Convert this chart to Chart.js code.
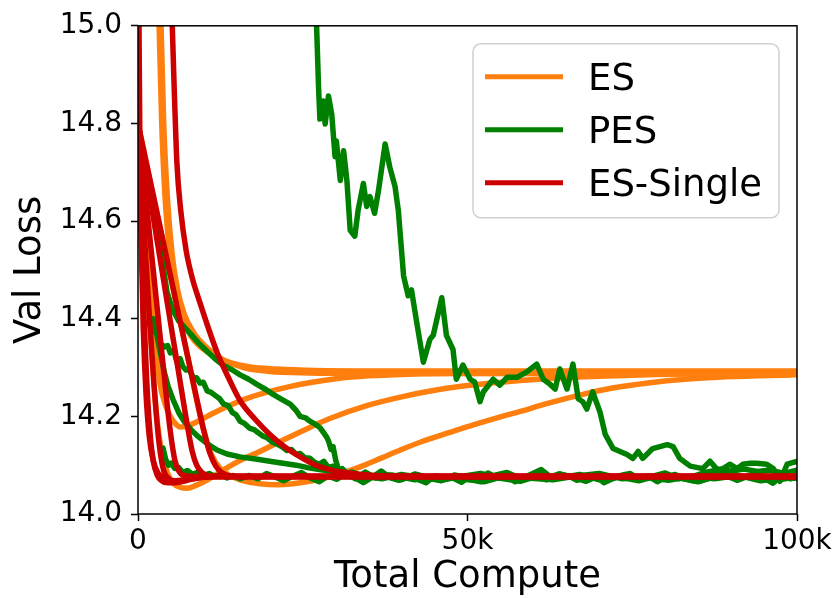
<!DOCTYPE html>
<html>
<head>
<meta charset="utf-8">
<script src="https://cdn.jsdelivr.net/npm/chart.js@4.4.1/dist/chart.umd.min.js"></script>
<style>
  html, body { margin: 0; padding: 0; background: #fff; }
  canvas { display: block; }
</style>
</head>
<body>
<canvas id="chart" width="839" height="598"></canvas>
<script>
// Each run: [total compute in thousands, validation loss]

// ES runs
const esRun1 = [[2.7,15.3],[3.2,15.0],[3.6,14.8],[4.1,14.65],[4.7,14.55],[5.3,14.49],[6.0,14.44],[6.8,14.40],[8.0,14.365],[9.5,14.342],[11.4,14.325],[14.0,14.31],[17.0,14.301],[21.0,14.297],[27.0,14.294],[35.0,14.293],[50.0,14.293],[100.0,14.293]];
const esRun2 = [[3.0,15.3],[3.5,15.0],[3.9,14.8],[4.5,14.64],[5.2,14.53],[6.0,14.46],[7.0,14.41],[8.5,14.37],[10.5,14.34],[13.0,14.315],[16.0,14.3],[20.0,14.292],[26.0,14.289],[35.0,14.288],[100.0,14.287]];
const esRun3 = [[0,14.8],[1.0,14.65],[2.0,14.47],[2.6,14.36],[3.3,14.27],[4.2,14.222],[4.9,14.2],[5.6,14.186],[6.4,14.178],[7.5,14.18],[8.8,14.188],[10.5,14.2],[12.4,14.213],[14.5,14.226],[17.0,14.239],[20.0,14.251],[23.0,14.261],[26.0,14.269],[30.0,14.277],[35.0,14.283],[42.0,14.287],[52.0,14.289],[65.0,14.29],[100.0,14.29]];
const esRun4 = [[0,14.8],[0.6,14.66],[1.2,14.52],[1.8,14.39],[2.4,14.27],[3.0,14.18],[3.7,14.12],[4.5,14.083],[5.4,14.062],[6.5,14.054],[7.5,14.053],[8.7,14.058],[10.0,14.066],[11.3,14.076],[12.6,14.087],[14.2,14.1],[16.0,14.113],[18.0,14.125],[21.0,14.145],[24.6,14.168],[29.0,14.195],[34.7,14.222],[40.0,14.24],[44.8,14.253],[50.0,14.263],[55.0,14.27],[62.0,14.277],[70.0,14.282],[80.0,14.286],[90.0,14.288],[100.0,14.289]];
const esRun5 = [[0,14.8],[2.0,14.67],[4.0,14.545],[6.0,14.42],[7.5,14.325],[8.8,14.24],[10.0,14.17],[11.2,14.12],[12.5,14.093],[14.0,14.078],[16.0,14.068],[18.5,14.062],[21.0,14.06],[23.5,14.062],[26.0,14.067],[28.5,14.074],[31.0,14.084],[34.0,14.098],[37.0,14.115],[39.8,14.131],[43.0,14.148],[47.3,14.167],[51.0,14.183],[55.0,14.199],[58.0,14.21],[62.0,14.226],[67.5,14.245],[72.0,14.258],[77.7,14.269],[83.0,14.276],[88.0,14.28],[94.0,14.283],[100.0,14.285]];

// PES runs
const pesRun1 = [[3.8,14.135],[4.2,14.112],[4.6,14.1],[5.0,14.104],[5.6,14.093],[6.2,14.095],[6.8,14.085],[7.5,14.089],[8.3,14.081],[9.1,14.086],[10.0,14.079],[10.8,14.083],[11.7,14.077],[12.6,14.081],[13.5,14.074],[14.4,14.079],[15.5,14.072],[16.8,14.079],[18.2,14.072],[19.5,14.083],[20.8,14.076],[22.1,14.068],[23.4,14.077],[24.8,14.085],[26.1,14.074],[27.5,14.066],[28.8,14.078],[30.2,14.071],[31.5,14.083],[32.9,14.075],[34.2,14.064],[35.6,14.076],[36.9,14.088],[38.3,14.074],[39.6,14.069],[41.0,14.079],[42.3,14.072],[43.7,14.064],[45.0,14.078],[46.4,14.071],[47.7,14.074],[49.1,14.065],[50.4,14.078],[51.8,14.072],[53.1,14.084],[54.5,14.074],[55.8,14.079],[57.2,14.066],[58.5,14.074],[59.9,14.083],[61.2,14.091],[62.6,14.076],[63.9,14.082],[65.3,14.078],[66.6,14.069],[68.0,14.076],[69.3,14.081],[70.7,14.064],[72.0,14.072],[73.4,14.079],[74.7,14.083],[76.1,14.071],[77.4,14.078],[78.8,14.066],[80.1,14.076],[81.5,14.081],[82.8,14.073],[84.2,14.068],[85.5,14.079],[86.9,14.074],[88.2,14.083],[89.6,14.077],[90.9,14.069],[92.3,14.076],[93.6,14.082],[95.0,14.074],[96.3,14.063],[97.7,14.078],[99.0,14.072],[100.0,14.076]];
const pesRun2 = [[3.4,14.58],[3.9,14.5],[4.4,14.455],[5.2,14.42],[6.2,14.395],[7.9,14.37],[9.2,14.35],[10.5,14.333],[11.7,14.318],[12.9,14.305],[14.2,14.296],[15.5,14.285],[16.8,14.276],[18.1,14.265],[19.4,14.255],[20.5,14.245],[21.8,14.235],[23.1,14.225],[24.0,14.212],[24.6,14.2],[25.4,14.197],[26.1,14.19],[27.0,14.183],[27.6,14.177],[28.1,14.168],[28.6,14.158],[28.9,14.15],[29.3,14.132],[29.6,14.138],[30.0,14.11],[30.4,14.092],[30.8,14.081],[31.5,14.084],[33.0,14.072],[34.5,14.086],[36.0,14.074],[38.0,14.08],[40.0,14.07],[42.0,14.082],[44.0,14.075],[46.0,14.068],[48.0,14.08],[50.0,14.074],[52.0,14.066],[54.0,14.079],[56.0,14.085],[58.0,14.073],[60.0,14.078],[62.0,14.07],[64.0,14.082],[66.0,14.075],[68.0,14.067],[70.0,14.079],[72.0,14.074],[74.0,14.081],[76.0,14.07],[78.0,14.077],[80.0,14.084],[82.0,14.072],[84.0,14.076],[86.0,14.085],[88.0,14.09],[90.0,14.088],[92.0,14.092],[94.0,14.087],[96.0,14.09],[98.0,14.083],[100.0,14.09]];
const pesRun3 = [[1.6,14.39],[2.0,14.4],[2.4,14.375],[2.9,14.37],[3.4,14.35],[4.0,14.342],[4.5,14.345],[4.9,14.33],[5.4,14.336],[5.9,14.312],[6.4,14.318],[6.8,14.302],[7.3,14.295],[7.8,14.296],[8.3,14.282],[8.9,14.279],[9.4,14.268],[9.9,14.27],[10.5,14.252],[11.1,14.249],[11.7,14.243],[12.4,14.236],[13.0,14.225],[13.7,14.222],[14.3,14.208],[14.9,14.203],[15.5,14.19],[16.2,14.185],[16.9,14.176],[17.6,14.173],[18.1,14.168],[18.9,14.16],[19.6,14.156],[20.4,14.147],[21.1,14.143],[21.8,14.138],[22.6,14.13],[23.3,14.132],[24.0,14.122],[24.6,14.124],[25.3,14.115],[26.1,14.114],[26.8,14.106],[27.5,14.102],[28.2,14.108],[28.9,14.095],[29.6,14.098],[30.3,14.089],[31.0,14.093],[31.7,14.083],[32.5,14.086],[34.0,14.078],[37.0,14.072],[40.0,14.081],[43.0,14.074],[46.0,14.069],[49.0,14.077],[52.0,14.083],[55.0,14.073],[58.0,14.067],[61.0,14.079],[64.0,14.074],[67.0,14.081],[70.0,14.07],[73.0,14.076],[76.0,14.068],[79.0,14.079],[82.0,14.074],[85.0,14.066],[88.0,14.078],[91.0,14.073],[94.0,14.081],[97.0,14.069],[100.0,14.077]];
const pesRun4 = [[2.3,14.4],[2.8,14.37],[3.4,14.33],[4.0,14.29],[4.6,14.26],[5.3,14.235],[6.2,14.207],[7.0,14.19],[7.9,14.175],[9.0,14.16],[10.5,14.144],[12.0,14.131],[13.5,14.123],[15.5,14.117],[18.1,14.112],[20.0,14.108],[22.0,14.104],[24.0,14.1],[26.1,14.094],[28.0,14.09],[30.0,14.087],[32.0,14.082],[35.0,14.074],[38.5,14.08],[42.0,14.07],[45.5,14.077],[49.0,14.072],[52.5,14.066],[56.0,14.079],[59.5,14.073],[63.0,14.07],[66.5,14.078],[70.0,14.083],[73.5,14.072],[77.0,14.075],[80.5,14.069],[84.0,14.077],[87.5,14.072],[91.0,14.079],[94.5,14.068],[98.0,14.074],[100.0,14.073]];
const pesRun5 = [[26.6,15.08],[27.1,15.0],[27.4,14.874],[27.6,14.809],[28.1,14.846],[28.4,14.799],[28.9,14.856],[29.4,14.819],[29.9,14.732],[30.1,14.764],[30.7,14.683],[31.2,14.744],[31.7,14.683],[32.2,14.581],[32.9,14.569],[33.4,14.622],[34.2,14.677],[34.7,14.63],[35.2,14.65],[35.9,14.616],[36.5,14.663],[37.5,14.758],[38.2,14.711],[39.0,14.671],[39.5,14.622],[40.3,14.488],[41.0,14.447],[41.5,14.459],[42.3,14.392],[43.3,14.311],[44.3,14.358],[44.8,14.366],[46.1,14.443],[46.8,14.366],[47.8,14.337],[48.3,14.276],[49.3,14.305],[50.4,14.276],[51.1,14.27],[51.9,14.23],[52.4,14.25],[53.9,14.276],[54.9,14.264],[56.0,14.28],[57.5,14.28],[59.0,14.291],[60.5,14.307],[61.5,14.276],[62.5,14.266],[63.3,14.256],[64.0,14.297],[65.1,14.256],[66.0,14.307],[66.8,14.236],[67.5,14.23],[68.1,14.215],[69.0,14.25],[70.1,14.209],[70.9,14.163],[72.1,14.134],[74.2,14.122],[75.1,14.114],[75.9,14.128],[76.6,14.114],[78.1,14.134],[79.2,14.138],[80.3,14.142],[81.2,14.138],[82.2,14.114],[83.8,14.098],[85.7,14.093],[86.8,14.108],[87.9,14.091],[88.8,14.093],[89.8,14.102],[90.9,14.093],[91.8,14.102],[92.9,14.104],[93.9,14.104],[95.4,14.102],[96.4,14.093],[97.4,14.067],[98.5,14.102],[100.0,14.108]];

// ES-Single runs
const singleRun1 = [[0,15.6],[0.15,15.0],[0.3,14.75],[0.5,14.55],[0.8,14.38],[1.2,14.25],[1.7,14.16],[2.3,14.11],[3.0,14.085],[4.0,14.072],[5.2,14.066],[6.5,14.066],[8.0,14.071],[10.5,14.076],[14.0,14.077],[100.0,14.077]];
const singleRun2 = [[0,14.8],[0.3,14.66],[0.6,14.53],[0.9,14.41],[1.3,14.28],[1.8,14.17],[2.3,14.11],[2.9,14.08],[3.6,14.068],[4.5,14.064],[5.6,14.064],[7.0,14.068],[9.0,14.074],[12.0,14.077],[100.0,14.077]];
const singleRun3 = [[0,14.8],[0.6,14.66],[1.2,14.52],[1.8,14.39],[2.4,14.27],[3.0,14.17],[3.5,14.115],[4.0,14.085],[4.7,14.072],[5.6,14.068],[7.0,14.07],[9.0,14.075],[12.0,14.077],[100.0,14.077]];
const singleRun4 = [[0,14.8],[1.0,14.67],[2.0,14.54],[3.0,14.41],[3.8,14.306],[4.5,14.215],[5.1,14.15],[5.6,14.11],[6.2,14.088],[7.0,14.079],[9.0,14.077],[100.0,14.077]];
const singleRun5 = [[0,14.8],[1.5,14.676],[3.0,14.552],[4.5,14.428],[5.6,14.337],[6.6,14.254],[7.5,14.18],[8.2,14.13],[8.9,14.1],[9.7,14.085],[11.0,14.078],[14.0,14.077],[100.0,14.077]];
const singleRun6 = [[0,14.8],[2.0,14.673],[4.0,14.547],[6.0,14.42],[7.5,14.325],[8.8,14.243],[10.0,14.17],[10.9,14.125],[11.8,14.098],[12.8,14.084],[14.2,14.078],[17.0,14.077],[100.0,14.077]];
const singleRun7 = [[4.6,15.4],[5.2,15.0],[5.6,14.83],[5.9,14.72],[6.5,14.62],[7.3,14.54],[8.3,14.48],[9.4,14.433],[10.7,14.38],[12.0,14.331],[13.7,14.28],[15.5,14.232],[17.7,14.195],[20.0,14.163],[22.5,14.135],[25.0,14.114],[27.0,14.1],[29.1,14.091],[32.0,14.084],[36.0,14.079],[42.0,14.077],[100.0,14.077]];

const methods = ['ES', 'PES', 'ES-Single'];
const methodColors = ['#ff7f0e', '#008000', '#cc0000'];
const esRuns = [esRun1, esRun2, esRun3, esRun4, esRun5];
const pesRuns = [pesRun1, pesRun2, pesRun3, pesRun4, pesRun5];
const singleRuns = [singleRun1, singleRun2, singleRun3, singleRun4, singleRun5, singleRun6, singleRun7];

const xTickValues = [0, 50000, 100000];
const xTickLabels = ['0', '50k', '100k'];
const yTickValues = [14.0, 14.2, 14.4, 14.6, 14.8, 15.0];

const FONT = "'DejaVu Sans', 'Liberation Sans', sans-serif";

function makeRun(points, methodIndex, drawOrder, smooth) {
  return {
    label: methods[methodIndex],
    data: points.map(([k, v]) => ({ x: k * 1000, y: v })),
    borderColor: methodColors[methodIndex],
    backgroundColor: methodColors[methodIndex],
    borderWidth: 5.5,
    pointRadius: 0,
    pointHoverRadius: 0,
    fill: false,
    order: drawOrder,
    clip: 0,
    tension: 0,
    cubicInterpolationMode: smooth ? 'monotone' : 'default',
    borderJoinStyle: 'round',
    borderCapStyle: 'round'
  };
}

const datasets = [
  ...esRuns.map(r => makeRun(r, 0, 3, true)),
  ...pesRuns.map(r => makeRun(r, 1, 2, false)),
  ...singleRuns.map(r => makeRun(r, 2, 1, true))
];

// axes frame drawn over the lines, like plot spines
const framePlugin = {
  id: 'frame',
  afterDatasetsDraw(chart) {
    const { ctx, chartArea: a } = chart;
    ctx.save();
    ctx.strokeStyle = '#000';
    ctx.lineWidth = 1.5;
    ctx.strokeRect(a.left, a.top, a.right - a.left, a.bottom - a.top);
    ctx.restore();
  }
};

// boxed legend in the upper right of the plot
const legendPlugin = {
  id: 'boxLegend',
  afterDraw(chart) {
    const { ctx, chartArea: a } = chart;
    const w = 306, h = 174, r = 8;
    const x = a.right - 18 - w, y = a.top + 18;
    ctx.save();
    ctx.beginPath();
    ctx.moveTo(x + r, y);
    ctx.lineTo(x + w - r, y);
    ctx.arcTo(x + w, y, x + w, y + r, r);
    ctx.lineTo(x + w, y + h - r);
    ctx.arcTo(x + w, y + h, x + w - r, y + h, r);
    ctx.lineTo(x + r, y + h);
    ctx.arcTo(x, y + h, x, y + h - r, r);
    ctx.lineTo(x, y + r);
    ctx.arcTo(x, y, x + r, y, r);
    ctx.closePath();
    ctx.fillStyle = 'rgba(255,255,255,0.8)';
    ctx.fill();
    ctx.strokeStyle = '#d0d0d0';
    ctx.lineWidth = 1.5;
    ctx.stroke();

    const rowGap = 53;
    const fontSize = 37;
    ctx.font = fontSize + 'px ' + FONT;
    ctx.textBaseline = 'alphabetic';
    ctx.textAlign = 'left';
    methods.forEach((name, i) => {
      const cy = y + 33 + i * rowGap;
      ctx.beginPath();
      ctx.moveTo(x + 12, cy);
      ctx.lineTo(x + 90, cy);
      ctx.strokeStyle = methodColors[i];
      ctx.lineWidth = 5;
      ctx.lineCap = 'butt';
      ctx.stroke();
      ctx.fillStyle = '#000';
      ctx.fillText(name, x + 115, cy + 0.365 * fontSize);
    });
    ctx.restore();
  }
};

new Chart(document.getElementById('chart'), {
  type: 'line',
  data: { datasets },
  options: {
    responsive: false,
    animation: false,
    devicePixelRatio: 1,
    layout: { padding: { top: 21, right: 42, bottom: 0, left: 0 } },
    plugins: {
      legend: { display: false },
      tooltip: { enabled: false }
    },
    scales: {
      x: {
        type: 'linear',
        min: 0,
        max: 100000,
        afterBuildTicks: s => { s.ticks = xTickValues.map(v => ({ value: v })); },
        afterFit: s => { s.height = 84; },
        ticks: {
          autoSkip: false,
          maxRotation: 0,
          color: '#000',
          padding: 4,
          font: { family: FONT, size: 28 },
          callback: v => xTickLabels[xTickValues.indexOf(v)]
        },
        grid: { display: true, drawOnChartArea: false, drawTicks: true, tickLength: 7, tickWidth: 1.5, tickColor: '#000' },
        border: { display: false },
        title: {
          display: true,
          text: 'Total Compute',
          color: '#000',
          font: { family: FONT, size: 37 },
          padding: { top: 0, bottom: -2 }
        }
      },
      y: {
        type: 'linear',
        min: 14.0,
        max: 15.0,
        afterBuildTicks: s => { s.ticks = yTickValues.map(v => ({ value: v })); },
        afterFit: s => { s.width = 138; },
        ticks: {
          autoSkip: false,
          color: '#000',
          padding: 9,
          font: { family: FONT, size: 28 },
          callback: v => Number(v).toFixed(1)
        },
        grid: { display: true, drawOnChartArea: false, drawTicks: true, tickLength: 7, tickWidth: 1.5, tickColor: '#000' },
        border: { display: false },
        title: {
          display: true,
          text: 'Val Loss',
          color: '#000',
          font: { family: FONT, size: 37 },
          padding: { top: 8, bottom: 0 }
        }
      }
    }
  },
  plugins: [framePlugin, legendPlugin]
});
</script>
</body>
</html>
